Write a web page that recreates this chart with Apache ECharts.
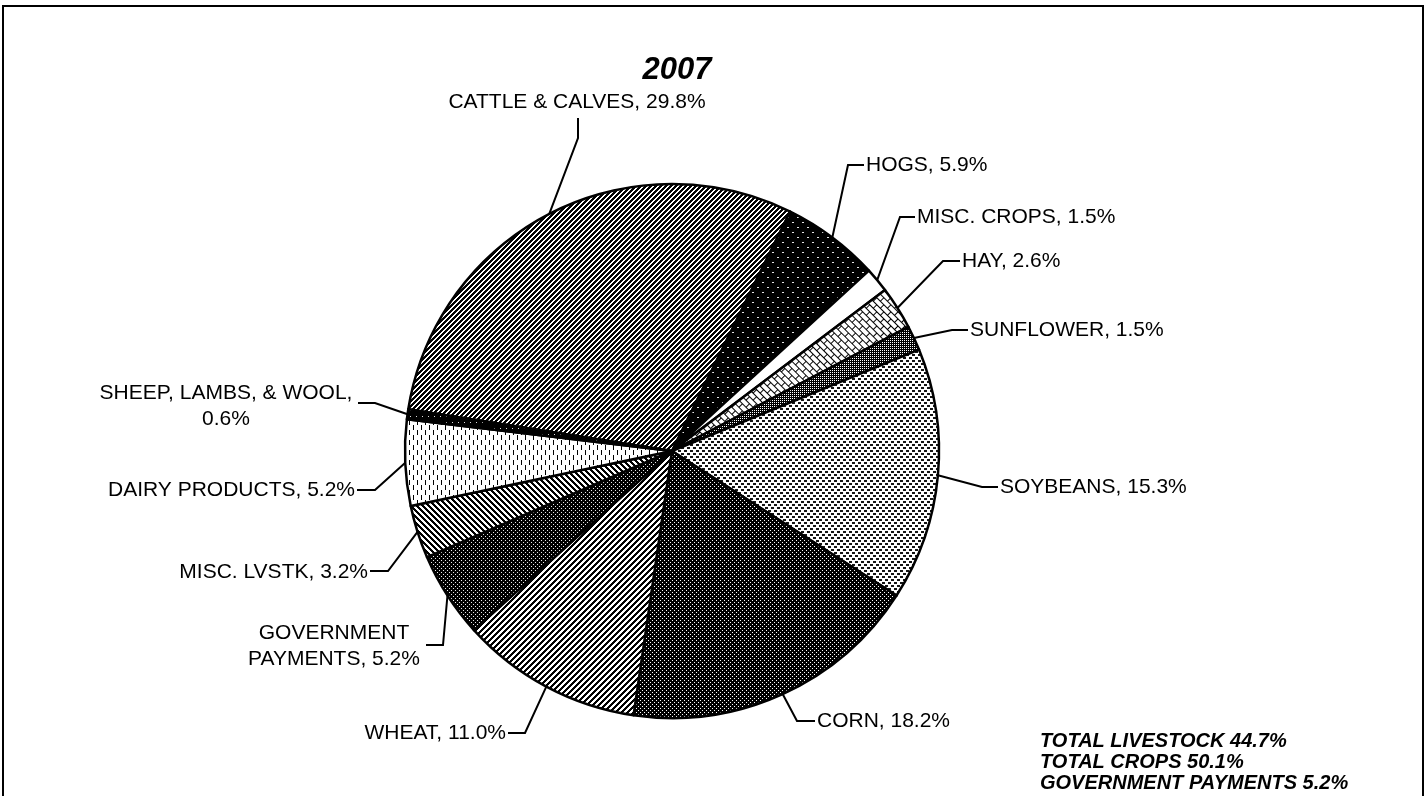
<!DOCTYPE html>
<html>
<head>
<meta charset="utf-8">
<script src="https://cdn.jsdelivr.net/npm/echarts@6/dist/echarts.min.js"></script>
<style>
html,body{margin:0;padding:0;background:#fff;}
#chart{width:1427px;height:796px;}
</style>
</head>
<body>
<div id="chart"></div>
<script>
// ---------------- data ----------------
const categories = ['CATTLE & CALVES', 'HOGS', 'MISC. CROPS', 'HAY', 'SUNFLOWER', 'SOYBEANS',
  'CORN', 'WHEAT', 'GOVERNMENT PAYMENTS', 'MISC. LVSTK', 'DAIRY PRODUCTS', 'SHEEP, LAMBS, & WOOL'];
const shares = [29.8, 5.9, 1.5, 2.6, 1.5, 15.3, 18.2, 11.0, 5.2, 3.2, 5.2, 0.6];
const titleText = '2007';
const totalsLines = ['TOTAL LIVESTOCK 44.7%', 'TOTAL CROPS 50.1%', 'GOVERNMENT PAYMENTS 5.2%'];

// ---------------- fill patterns ----------------
function tile(w, h, isDark, dark, light) {
  const c = document.createElement('canvas');
  c.width = w; c.height = h;
  const ctx = c.getContext('2d');
  const img = ctx.createImageData(w, h);
  for (let y = 0; y < h; y++) {
    for (let x = 0; x < w; x++) {
      const v = isDark(x, y) ? dark : light;
      const i = (y * w + x) * 4;
      img.data[i] = img.data[i + 1] = img.data[i + 2] = v;
      img.data[i + 3] = 255;
    }
  }
  ctx.putImageData(img, 0, 0);
  return c;
}
function pat(canvas, extra) { return Object.assign({ image: canvas, repeat: 'repeat' }, extra || {}); }
const mod = (a, n) => ((a % n) + n) % n;

const fills = [
  pat(tile(5, 5, (x, y) => mod(x + y, 5) < 3, 0, 255)),                                  // cattle
  pat(tile(10, 10, (x, y) => !((x >= 2 && x < 4 && y === 2) || (x >= 7 && x < 9 && y === 7)), 0, 230)), // hogs
  '#ffffff',                                                                              // misc crops
  pat(tile(10, 10, (x, y) => y === 0 || y === 5 || (x === 0 && y < 5) || (x === 5 && y >= 5), 0, 255), { rotation: Math.PI / 4 }), // hay
  pat(tile(4, 4, (x, y) => !(x % 2 === 0 && y % 2 === 0), 0, 255)),                      // sunflower
  pat(tile(6, 6, (x, y) => (x < 3 && y < 2) || (x >= 3 && y >= 3 && y < 5), 20, 255)),   // soybeans
  pat(tile(4, 4, (x, y) => !((x === 0 && y === 0) || (x === 2 && y === 2)), 0, 255)),   // corn
  pat(tile(6, 6, (x, y) => mod(x + y, 6) < 3, 0, 255)),                                  // wheat
  pat(tile(4, 4, (x, y) => !((x === 1 && y === 0) || (x === 3 && y === 2)), 0, 235)),   // government
  pat(tile(6, 6, (x, y) => mod(x - y, 6) < 3, 0, 255)),                                  // misc lvstk
  pat(tile(8, 10, (x, y) => (x === 1 && y >= 0 && y < 5) || (x === 5 && y >= 5 && y < 10), 0, 255)), // dairy
  pat(tile(6, 6, (x, y) => !(x === 2 && y === 2), 0, 220))                               // sheep
];

// ---------------- label placement (layout only) ----------------
const labelPlace = [
  { x: 577, y: 102, align: 'center', bend: [578, 138], end: [578, 118], wrap: null },
  { x: 866, y: 165, align: 'left', bend: [848, 165], end: [864, 165], wrap: null },
  { x: 917, y: 217, align: 'left', bend: [900, 217], end: [915, 217], wrap: null },
  { x: 962, y: 261, align: 'left', bend: [943, 261], end: [960, 261], wrap: null },
  { x: 970, y: 330, align: 'left', bend: [952, 330], end: [968, 330], wrap: null },
  { x: 1000, y: 487, align: 'left', bend: [982, 487], end: [998, 487], wrap: null },
  { x: 817, y: 721, align: 'left', bend: [797, 721], end: [815, 721], wrap: null },
  { x: 506, y: 733, align: 'right', bend: [525, 733], end: [508, 733], wrap: null },
  { x: 334, y: 646, align: 'center', bend: [443, 645], end: [426, 645], wrap: 'name' },
  { x: 368, y: 572, align: 'right', bend: [388, 571], end: [370, 571], wrap: null },
  { x: 355, y: 490, align: 'right', bend: [375, 490], end: [357, 490], wrap: null },
  { x: 226, y: 406, align: 'center', bend: [375, 403], end: [358, 403], wrap: 'value' }
];

const FONT = "'Liberation Sans', Arial, Helvetica, sans-serif";

const pieData = categories.map((name, i) => ({
  name: name,
  value: shares[i],
  itemStyle: { color: fills[i] }
}));

const chart = echarts.init(document.getElementById('chart'), null, { renderer: 'canvas' });

chart.setOption({
  animation: false,
  backgroundColor: '#ffffff',
  graphic: [
    {
      type: 'rect', z: 0, silent: true,
      shape: { x: 3, y: 6, width: 1420, height: 820 },
      style: { fill: 'none', stroke: '#000', lineWidth: 2 }
    },
    {
      type: 'text', z: 10, x: 677, y: 70, silent: true,
      style: {
        text: titleText, fill: '#000',
        font: 'italic bold 31px ' + FONT,
        textAlign: 'center', textVerticalAlign: 'middle', align: 'center', verticalAlign: 'middle'
      }
    },
    {
      type: 'text', z: 10, x: 1040, y: 731, silent: true,
      style: {
        text: totalsLines.join('\n'), fill: '#000',
        font: 'italic bold 20px ' + FONT, lineHeight: 21,
        textAlign: 'left', textVerticalAlign: 'top', align: 'left', verticalAlign: 'top'
      }
    }
  ],
  series: [{
    type: 'pie',
    center: [672, 451],
    radius: 267,
    startAngle: 171,
    clockwise: true,
    avoidLabelOverlap: false,
    data: pieData,
    itemStyle: { borderColor: '#000', borderWidth: 2.5 },
    emphasis: { disabled: true },
    label: {
      show: true,
      position: 'outside',
      color: '#000',
      fontSize: 21,
      fontFamily: FONT,
      lineHeight: 26,
      formatter: function (p) {
        const pl = labelPlace[p.dataIndex];
        const v = Number(p.value).toFixed(1) + '%';
        if (pl.wrap === 'name') {
          return p.name.replace(' ', '\n') + ', ' + v;
        }
        if (pl.wrap === 'value') {
          return p.name + ',\n' + v;
        }
        return p.name + ', ' + v;
      }
    },
    labelLine: {
      show: true,
      smooth: false,
      lineStyle: { color: '#000', width: 2 }
    },
    labelLayout: function (p) {
      const pl = labelPlace[p.dataIndex];
      const a = p.labelLinePoints[0];
      return {
        x: pl.x,
        y: pl.y,
        align: pl.align,
        verticalAlign: 'middle',
        labelLinePoints: [[a[0], a[1]], pl.bend, pl.end]
      };
    }
  }]
});
</script>
</body>
</html>
